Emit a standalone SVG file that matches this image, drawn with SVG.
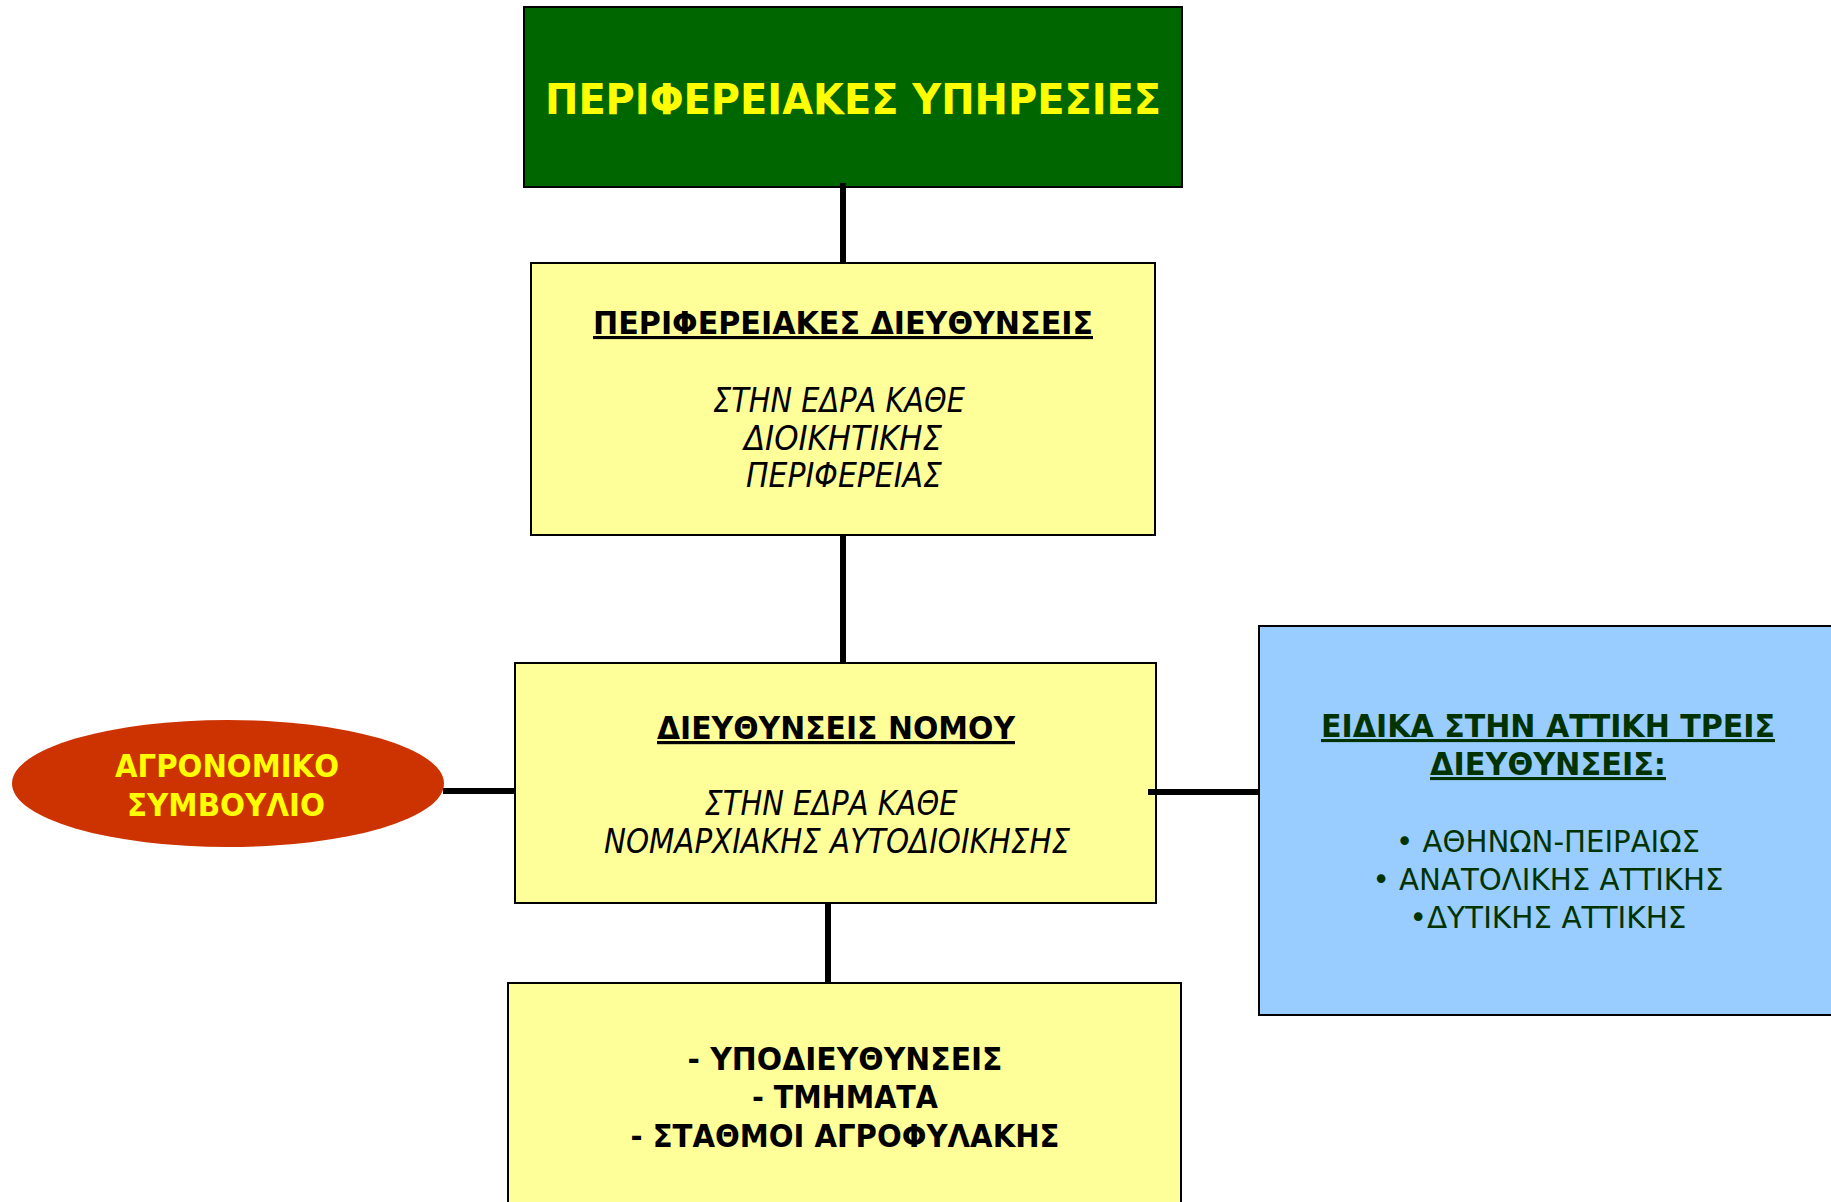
<svg xmlns="http://www.w3.org/2000/svg" width="1831" height="1202" viewBox="0 0 1831 1202">
<style>
.box{stroke:#000;stroke-width:2}
.t{font-family:"DejaVu Sans","Liberation Sans",sans-serif;text-anchor:middle}
.b{font-weight:bold}
.i{font-style:italic}
.u{text-decoration:underline}
.conn line{stroke:#000;stroke-width:6}
</style>
<rect width="1831" height="1202" fill="#fff"/>
<g id="n-top">
<rect class="box" x="524" y="7" width="658" height="180" fill="#006600"/>
<text class="t b" x="853" y="114" font-size="43" fill="#FFFF00" textLength="616" lengthAdjust="spacingAndGlyphs">ΠΕΡΙΦΕΡΕΙΑΚΕΣ ΥΠΗΡΕΣΙΕΣ</text>
</g>
<g id="n-regional">
<rect class="box" x="531" y="263" width="624" height="272" fill="#FFFF99"/>
<text class="t b u" x="843" y="334" font-size="31" fill="#000" textLength="500" lengthAdjust="spacingAndGlyphs">ΠΕΡΙΦΕΡΕΙΑΚΕΣ ΔΙΕΥΘΥΝΣΕΙΣ</text>
<text class="t i" x="839" y="412" font-size="33" fill="#000" textLength="252" lengthAdjust="spacingAndGlyphs">ΣΤΗΝ ΕΔΡΑ ΚΑΘΕ</text>
<text class="t i" x="843" y="450" font-size="33" fill="#000" textLength="198" lengthAdjust="spacingAndGlyphs">ΔΙΟΙΚΗΤΙΚΗΣ</text>
<text class="t i" x="844" y="487" font-size="33" fill="#000" textLength="196" lengthAdjust="spacingAndGlyphs">ΠΕΡΙΦΕΡΕΙΑΣ</text>
</g>
<g id="n-nomos">
<rect class="box" x="515" y="663" width="641" height="240" fill="#FFFF99"/>
<text class="t b u" x="836" y="739" font-size="32" fill="#000" textLength="358" lengthAdjust="spacingAndGlyphs">ΔΙΕΥΘΥΝΣΕΙΣ ΝΟΜΟΥ</text>
<text class="t i" x="831" y="815" font-size="33" fill="#000" textLength="253" lengthAdjust="spacingAndGlyphs">ΣΤΗΝ ΕΔΡΑ ΚΑΘΕ</text>
<text class="t i" x="837" y="853" font-size="33" fill="#000" textLength="466" lengthAdjust="spacingAndGlyphs">ΝΟΜΑΡΧΙΑΚΗΣ ΑΥΤΟΔΙΟΙΚΗΣΗΣ</text>
</g>
<g id="n-council">
<ellipse cx="228" cy="783.5" rx="216" ry="63.5" fill="#CC3300"/>
<text class="t b" x="227" y="777" font-size="31" fill="#FFFF00" textLength="224" lengthAdjust="spacingAndGlyphs">ΑΓΡΟΝΟΜΙΚΟ</text>
<text class="t b" x="226" y="816" font-size="31" fill="#FFFF00" textLength="198" lengthAdjust="spacingAndGlyphs">ΣΥΜΒΟΥΛΙΟ</text>
</g>
<g id="n-attica">
<rect class="box" x="1259" y="626" width="585" height="389" fill="#99CCFF"/>
<text class="t b u" x="1548" y="737" font-size="31" fill="#003300" textLength="454" lengthAdjust="spacingAndGlyphs">ΕΙΔΙΚΑ ΣΤΗΝ ΑΤΤΙΚΗ ΤΡΕΙΣ</text>
<text class="t b u" x="1548" y="775" font-size="31" fill="#003300" textLength="236" lengthAdjust="spacingAndGlyphs">ΔΙΕΥΘΥΝΣΕΙΣ:</text>
<text class="t" x="1548" y="852" font-size="31" fill="#003300" textLength="304" lengthAdjust="spacingAndGlyphs">• ΑΘΗΝΩΝ-ΠΕΙΡΑΙΩΣ</text>
<text class="t" x="1548" y="890" font-size="31" fill="#003300" textLength="351" lengthAdjust="spacingAndGlyphs">• ΑΝΑΤΟΛΙΚΗΣ ΑΤΤΙΚΗΣ</text>
<text class="t" x="1548" y="928" font-size="31" fill="#003300" textLength="277" lengthAdjust="spacingAndGlyphs">•ΔΥΤΙΚΗΣ ΑΤΤΙΚΗΣ</text>
</g>
<g id="n-sub">
<rect class="box" x="508" y="983" width="673" height="240" fill="#FFFF99"/>
<text class="t b" x="845" y="1070" font-size="31" fill="#000" textLength="315" lengthAdjust="spacingAndGlyphs">- ΥΠΟΔΙΕΥΘΥΝΣΕΙΣ</text>
<text class="t b" x="845" y="1108" font-size="31" fill="#000" textLength="186" lengthAdjust="spacingAndGlyphs">- ΤΜΗΜΑΤΑ</text>
<text class="t b" x="845" y="1147" font-size="31" fill="#000" textLength="429" lengthAdjust="spacingAndGlyphs">- ΣΤΑΘΜΟΙ ΑΓΡΟΦΥΛΑΚΗΣ</text>
</g>
<g class="conn" id="connectors">
<line x1="843" y1="183" x2="843" y2="263"/>
<line x1="843" y1="535" x2="843" y2="663"/>
<line x1="828" y1="903" x2="828" y2="983"/>
<line x1="443" y1="791" x2="515" y2="791"/>
<line x1="1148" y1="792" x2="1259" y2="792"/>
</g>
</svg>
